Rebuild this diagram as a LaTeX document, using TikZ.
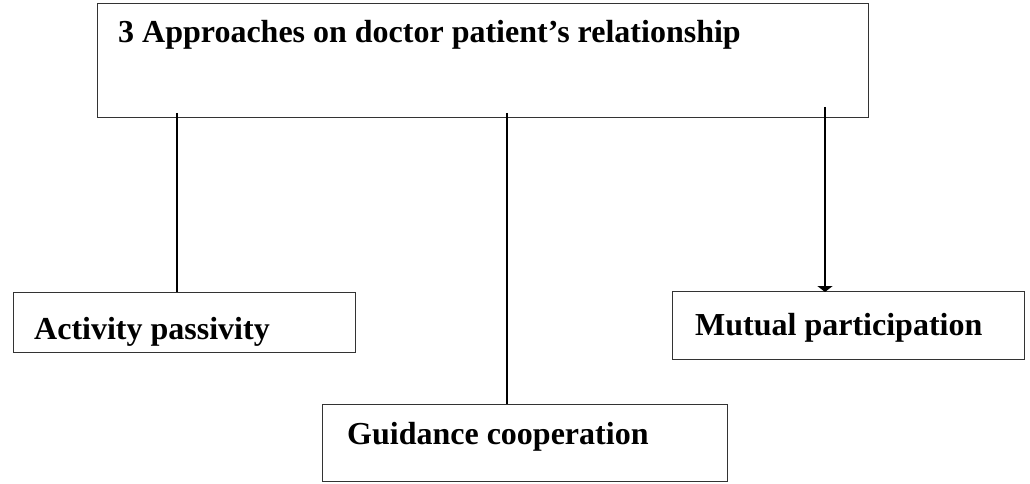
\documentclass[tikz,border=0pt]{standalone}
\usepackage{fontspec}
\setmainfont{Liberation Serif}
\usetikzlibrary{arrows.meta}
\begin{document}
\begin{tikzpicture}[x=1pt,y=-1pt,
  box/.style={draw=black!80, line width=1.3pt, inner sep=0pt, anchor=north west},
  lbl/.style={anchor=base west, inner sep=0pt, font=\fontsize{32}{38}\selectfont\bfseries},
  conn/.style={draw=black, line width=2.6pt}]
\useasboundingbox (0,0) rectangle (1030,484);
\node[box, minimum width=771pt, minimum height=114pt] (top) at (97,3) {};
\node[box, minimum width=342pt, minimum height=60pt] (act) at (13,292) {};
\node[box, minimum width=405pt, minimum height=77pt] (gui) at (322,404) {};
\node[box, minimum width=352pt, minimum height=68pt] (mut) at (672,291) {};
\node[lbl] (tt) at (118,43) {3 Approaches on doctor patient’s relationship};
\node[lbl] (ta) at (34,339) {Activity passivity};
\node[lbl] (tg) at (347,444) {Guidance cooperation};
\node[lbl] (tm) at (695,335) {Mutual participation};
\coordinate (s1) at (177,113);
\coordinate (s2) at (507,113);
\coordinate (s3) at (825,107);
\draw[conn] (s1) -- (s1 |- act.north);
\draw[conn] (s2) -- (s2 |- gui.north);
\draw[conn, -{Triangle[width=15pt,length=6pt]}, shorten >=-1pt] (s3) -- (s3 |- mut.north);
\end{tikzpicture}
\end{document}
